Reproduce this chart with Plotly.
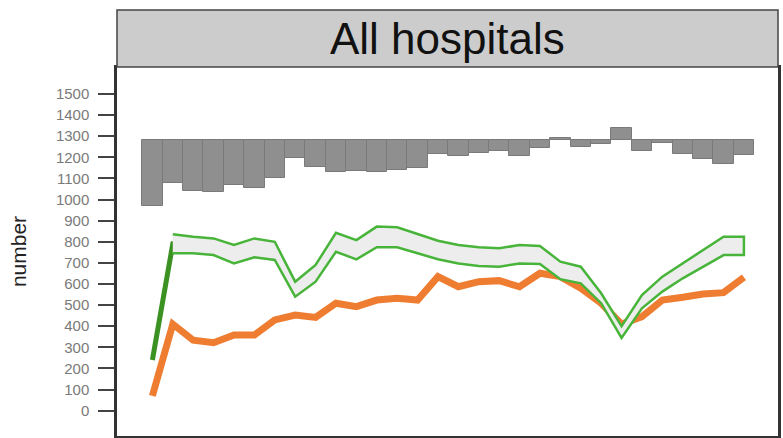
import plotly.graph_objects as go

# ---- data ----
weeks = list(range(1, 31))
bar_base = 1280
bar_values = [970, 1077, 1042, 1037, 1068, 1053, 1101, 1199, 1156, 1129,
              1135, 1132, 1140, 1151, 1214, 1205, 1219, 1232, 1206, 1243,
              1293, 1251, 1263, 1338, 1232, 1270, 1214, 1191, 1169, 1211]
orange = [70, 410, 334, 322, 358, 358, 430, 453, 442, 509,
          493, 524, 532, 524, 635, 587, 611, 616, 587, 651,
          635, 580, 509, 410, 445, 524, 537, 553, 559, 632]
median = [240, 790, 785, 777, 741, 771, 757, 575, 650, 798,
          762, 823, 821, 791, 761, 741, 729, 725, 741, 737,
          665, 642, 532, 372, 516, 600, 662, 721, 780, 777]
band_weeks = weeks[1:]
upper = [836, 824, 816, 785, 816, 800, 611, 690, 843,
         808, 872, 869, 837, 805, 785, 774, 769, 785, 780,
         706, 682, 556, 400, 548, 635, 698, 761, 824, 824]
lower = [746, 746, 737, 697, 727, 714, 540, 611, 753,
         717, 774, 774, 746, 717, 697, 685, 682, 697, 695,
         623, 603, 509, 345, 485, 564, 627, 682, 737, 737]
y_ticks = list(range(0, 1501, 100))
panel_title = "All hospitals"

W, H = 783, 438
ml, mr, mt, mb = 117, 3, 67, 2
plot_h = H - mt - mb

fig = go.Figure()
fig.add_trace(go.Bar(
    x=weeks, y=[v - bar_base for v in bar_values], base=bar_base, width=1,
    marker=dict(color="#8f8f8f", line=dict(color="#7a7a7a", width=1)),
    showlegend=False, hoverinfo="skip"))
fig.add_trace(go.Scatter(
    x=weeks, y=orange, mode="lines",
    line=dict(color="#ee7d31", width=7), showlegend=False))
fig.add_trace(go.Scatter(
    x=weeks, y=median, mode="lines",
    line=dict(color="#3b9122", width=5), showlegend=False))
# uncertainty band as a closed polygon (outlined on all sides)
fig.add_trace(go.Scatter(
    x=band_weeks + band_weeks[::-1], y=upper + lower[::-1],
    mode="lines", fill="toself", fillcolor="#ededed",
    line=dict(color="#48b43a", width=2.5), showlegend=False))

fig.update_layout(
    width=W, height=H,
    margin=dict(l=ml, r=mr, t=mt, b=mb, pad=0),
    paper_bgcolor="white", plot_bgcolor="white",
    bargap=0,
    font=dict(family="Liberation Sans, Arial, sans-serif"),
)
fig.update_xaxes(range=[-0.735, 31.67], showgrid=False, zeroline=False,
                 showticklabels=False, ticks="", showline=True,
                 linecolor="#333333", linewidth=2, mirror=True)
fig.update_yaxes(range=[-120, 1628], showgrid=False, zeroline=False,
                 tickvals=y_ticks, ticktext=[str(v) for v in y_ticks],
                 ticks="outside", ticklen=16, tickwidth=2, tickcolor="#444444",
                 ticklabelstandoff=6,
                 tickfont=dict(size=15, color="#7a7a7a",
                               family="Liberation Sans, Arial, sans-serif"),
                 showline=True, linecolor="#333333", linewidth=2.5, mirror=True,
                 title=dict(text="number", standoff=24,
                            font=dict(size=21, color="#222222")))

strip_top = 1 + 57 / plot_h
fig.add_shape(type="rect", xref="paper", yref="paper",
              x0=0, x1=1, y0=1, y1=strip_top,
              fillcolor="#cccccc", line=dict(color="#444444", width=1.5),
              layer="above")
fig.add_annotation(text=panel_title, xref="paper", yref="paper",
                   x=0.5, y=(1 + strip_top) / 2, showarrow=False,
                   xanchor="center", yanchor="middle",
                   font=dict(size=44, color="#111111",
                             family="Liberation Sans, Arial, sans-serif"))

fig.write_html("out.html")
